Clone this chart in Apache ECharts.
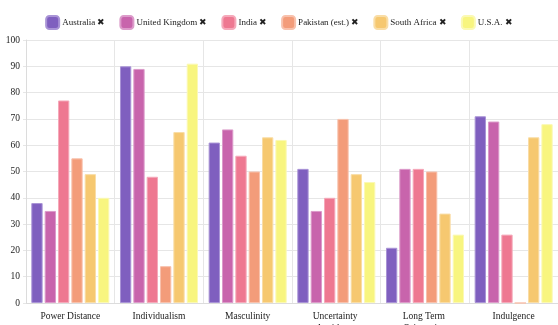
<!DOCTYPE html>
<html>
<head>
<meta charset="utf-8">
<script src="https://cdn.jsdelivr.net/npm/echarts@6/dist/echarts.min.js"></script>
<style>
  html, body { margin: 0; padding: 0; background: #fff; }
  #chart { width: 558px; height: 325px; }
</style>
</head>
<body>
<div id="chart"></div>
<script>
// Hofstede cultural dimension scores by country
const dimensions = ['Power Distance', 'Individualism', 'Masculinity', 'Uncertainty Avoidance', 'Long Term Orientation', 'Indulgence'];
const countries = ['Australia', 'United Kingdom', 'India', 'Pakistan (est.)', 'South Africa', 'U.S.A.'];

const australia     = [38, 90, 61, 51, 21, 71];
const unitedKingdom = [35, 89, 66, 35, 51, 69];
const india         = [77, 48, 56, 40, 51, 26];
const pakistan      = [55, 14, 50, 70, 50, 0];
const southAfrica   = [49, 65, 63, 49, 34, 63];
const usa           = [40, 91, 62, 46, 26, 68];

const yTicks = [0, 10, 20, 30, 40, 50, 60, 70, 80, 90, 100];

const seriesValues = [australia, unitedKingdom, india, pakistan, southAfrica, usa];
const fills   = ['#7f5fbf', '#c864ac', '#ee7891', '#f39c7a', '#f6c870', '#f8f57f'];
const borders = ['#a994d6', '#dc9bca', '#f5a9ba', '#f8c1ac', '#f9dda6', '#fbf9b4'];

const FONT = '"Liberation Serif", "Times New Roman", serif';

const chart = echarts.init(document.getElementById('chart'), null, { renderer: 'canvas' });

chart.setOption({
  animation: false,
  textStyle: { fontFamily: FONT },
  legend: {
    top: 10,
    left: 'center',
    icon: 'roundRect',
    itemWidth: 13,
    itemHeight: 13,
    itemGap: 14,
    textStyle: { fontFamily: FONT, fontSize: 9, color: '#222', padding: [0, 0, 0, -2] },
    formatter: name => name + ' \u2716',
    data: countries
  },
  grid: { left: 26, right: 0, top: 40, bottom: 22, containLabel: false, outerBoundsMode: 'none' },
  xAxis: {
    type: 'category',
    data: dimensions,
    axisLine: { lineStyle: { color: '#dcdcdc' } },
    axisTick: { show: false },
    splitLine: { show: true, lineStyle: { color: '#e6e6e6' } },
    axisLabel: {
      interval: 0,
      margin: 7,
      fontFamily: FONT,
      fontSize: 9.5,
      color: '#222',
      width: 80,
      overflow: 'break',
      lineHeight: 12
    }
  },
  yAxis: {
    type: 'value',
    min: yTicks[0],
    max: yTicks[yTicks.length - 1],
    interval: 10,
    axisLine: { show: true, lineStyle: { color: '#dcdcdc' } },
    axisTick: { show: true, length: 3, lineStyle: { color: '#e6e6e6' } },
    splitLine: { lineStyle: { color: '#e6e6e6' } },
    axisLabel: { fontFamily: FONT, fontSize: 9.5, color: '#222', margin: 6 }
  },
  series: countries.map((name, i) => ({
    name,
    type: 'bar',
    data: seriesValues[i],
    barGap: '18%',
    barCategoryGap: '12%',
    itemStyle: { color: fills[i], borderColor: borders[i], borderWidth: 1 }
  }))
});
</script>
</body>
</html>
